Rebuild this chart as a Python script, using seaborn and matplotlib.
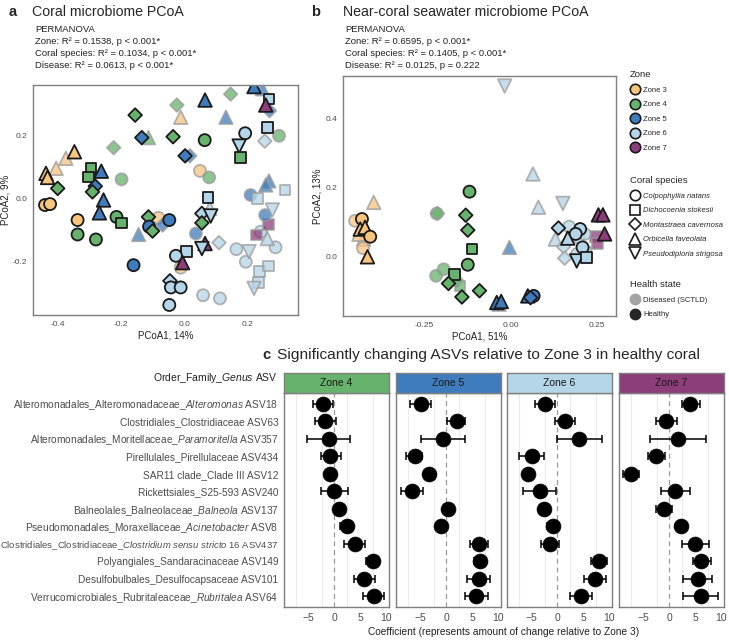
import pandas as pd
import seaborn as sns
import matplotlib.pyplot as plt
from matplotlib.lines import Line2D

# ---------------- data ----------------
# panel a: coral microbiome PCoA
a_x = [-0.438, -0.433, -0.406, -0.375, -0.348, -0.441, -0.425, -0.401, -0.224, -0.296,
       -0.303, -0.263, -0.282, -0.291, -0.256, -0.269, -0.199, -0.338, -0.338, -0.280,
       -0.215, -0.200, -0.156, -0.135, -0.114, -0.145, -0.161, -0.114, -0.112, -0.101,
       -0.082, -0.069, -0.048, -0.036, 0.002, 0.017, -0.024, -0.012, 0.064, 0.049,
       0.078, 0.065, 0.146, 0.131, 0.192, 0.173, 0.178, 0.254, 0.299, 0.263,
       0.267, 0.257, 0.269, 0.220, 0.246, 0.074, 0.055, 0.080, 0.083, 0.055,
       0.036, 0.065, 0.055, 0.109, 0.006, -0.027, -0.006, -0.012, -0.046, -0.043,
       -0.012, -0.048, 0.059, 0.112, 0.164, 0.194, 0.204, 0.238, 0.265, 0.234,
       0.220, 0.288, 0.262, 0.241, 0.265, 0.227, 0.255, 0.278, 0.209, 0.231,
       0.318, 0.267, 0.257]
a_y = [0.080, 0.067, 0.096, 0.128, 0.149, -0.021, -0.018, 0.032, 0.162, 0.096,
       0.069, 0.087, 0.039, 0.021, -0.005, -0.046, 0.061, -0.069, -0.115, -0.131,
       -0.059, -0.078, 0.266, 0.194, 0.194, -0.115, -0.213, -0.059, -0.090, -0.104,
       -0.062, -0.085, -0.069, 0.197, 0.136, 0.136, 0.298, 0.259, 0.186, 0.088,
       0.067, 0.314, 0.333, 0.259, 0.208, 0.167, 0.130, 0.183, 0.200, 0.227,
       0.317, 0.298, 0.280, 0.357, 0.350, 0.003, -0.048, -0.032, -0.056, -0.078,
       -0.112, -0.144, -0.160, -0.141, -0.170, -0.183, -0.205, -0.221, -0.263, -0.284,
       -0.284, -0.340, -0.309, -0.319, -0.162, -0.202, -0.170, -0.234, -0.215, -0.269,
       -0.287, -0.156, -0.128, -0.106, -0.083, -0.117, -0.053, -0.037, 0.011, 0.000,
       0.027, 0.056, 0.043]
a_zone = [3, 3, 3, 3, 3, 3, 3, 4, 4, 4,
          4, 5, 5, 4, 5, 5, 4, 3, 4, 4,
          4, 4, 4, 5, 4, 5, 5, 4, 5, 4,
          3, 5, 5, 4, 5, 5, 4, 3, 4, 3,
          4, 5, 4, 5, 6, 6, 4, 6, 4, 6,
          6, 7, 5, 5, 5, 6, 6, 6, 6, 4,
          5, 7, 6, 6, 6, 6, 7, 3, 6, 6,
          6, 6, 6, 6, 6, 6, 6, 6, 6, 6,
          6, 6, 6, 6, 7, 7, 5, 6, 5, 6,
          6, 5, 5]
a_species = ['O', 'O', 'O', 'O', 'O', 'C', 'C', 'M', 'M', 'D',
             'D', 'O', 'M', 'M', 'O', 'O', 'C', 'C', 'C', 'C',
             'C', 'D', 'M', 'M', 'O', 'O', 'C', 'M', 'C', 'M',
             'C', 'M', 'C', 'M', 'M', 'M', 'M', 'O', 'C', 'C',
             'C', 'O', 'M', 'O', 'C', 'P', 'D', 'M', 'C', 'D',
             'D', 'O', 'M', 'O', 'O', 'D', 'M', 'O', 'P', 'M',
             'C', 'O', 'P', 'M', 'D', 'C', 'O', 'C', 'M', 'C',
             'C', 'C', 'C', 'C', 'C', 'C', 'P', 'D', 'D', 'D',
             'P', 'C', 'O', 'C', 'D', 'D', 'C', 'P', 'C', 'D',
             'D', 'O', 'O']
a_health = ['H', 'H', 'D', 'D', 'H', 'H', 'H', 'H', 'D', 'H',
            'H', 'H', 'H', 'H', 'H', 'H', 'D', 'H', 'H', 'H',
            'H', 'H', 'H', 'H', 'D', 'D', 'H', 'H', 'H', 'H',
            'D', 'D', 'H', 'H', 'H', 'D', 'D', 'D', 'H', 'D',
            'D', 'H', 'D', 'D', 'H', 'H', 'H', 'D', 'D', 'H',
            'H', 'H', 'D', 'H', 'D', 'H', 'H', 'D', 'H', 'H',
            'D', 'H', 'H', 'D', 'H', 'H', 'H', 'D', 'H', 'H',
            'H', 'H', 'D', 'D', 'D', 'D', 'D', 'D', 'D', 'D',
            'D', 'D', 'D', 'D', 'D', 'D', 'D', 'D', 'D', 'D',
            'D', 'D', 'D']

# panel b: near-coral seawater PCoA
b_x = [-0.397, -0.451, -0.431, -0.436, -0.422, -0.407, -0.426, -0.428, -0.415, -0.440,
       -0.119, -0.214, -0.212, -0.130, -0.124, -0.112, -0.124, -0.194, -0.216, -0.163,
       -0.180, -0.146, -0.156, -0.141, -0.090, -0.017, 0.065, 0.081, 0.152, -0.003,
       -0.040, -0.027, -0.033, 0.067, 0.050, 0.058, 0.255, 0.268, 0.273, 0.246,
       0.253, 0.139, 0.170, 0.202, 0.189, 0.130, 0.154, 0.166, 0.197, 0.209,
       0.217, 0.157, 0.192, 0.221, 0.215, 0.193]
b_y = [0.157, 0.104, 0.109, 0.080, 0.085, 0.058, 0.051, 0.025, 0.000, 0.065,
       0.188, 0.125, 0.125, 0.120, 0.077, 0.022, -0.023, -0.036, -0.055, -0.052,
       -0.077, -0.084, -0.069, -0.116, -0.098, 0.493, 0.239, 0.143, 0.154, 0.027,
       -0.132, -0.129, -0.137, -0.113, -0.113, -0.118, 0.121, 0.121, 0.066, 0.058,
       0.039, 0.083, 0.087, 0.080, 0.066, 0.051, 0.029, 0.054, 0.056, 0.027,
       0.013, -0.004, -0.012, -0.002, 0.066, 0.008]
b_zone = [3, 3, 3, 3, 3, 3, 3, 3, 3, 3,
          4, 4, 4, 4, 4, 4, 4, 4, 4, 4,
          4, 4, 4, 4, 4, 6, 6, 6, 6, 5,
          5, 5, 5, 5, 5, 5, 7, 7, 7, 7,
          7, 6, 6, 6, 6, 6, 6, 6, 6, 6,
          6, 6, 6, 6, 6, 6]
b_species = ['O', 'C', 'C', 'O', 'O', 'C', 'O', 'C', 'O', 'O',
             'C', 'C', 'M', 'M', 'M', 'D', 'C', 'C', 'C', 'D',
             'M', 'D', 'M', 'M', 'M', 'P', 'O', 'O', 'P', 'O',
             'O', 'O', 'O', 'C', 'O', 'M', 'O', 'O', 'O', 'D',
             'D', 'M', 'C', 'C', 'C', 'O', 'M', 'O', 'C', 'C',
             'D', 'M', 'P', 'D', 'C', 'C']
b_health = ['D', 'D', 'H', 'H', 'H', 'H', 'D', 'D', 'H', 'D',
            'H', 'D', 'D', 'H', 'H', 'H', 'H', 'D', 'D', 'H',
            'H', 'D', 'D', 'H', 'H', 'D', 'D', 'D', 'D', 'D',
            'H', 'H', 'D', 'H', 'H', 'H', 'H', 'H', 'H', 'D',
            'D', 'H', 'D', 'H', 'H', 'D', 'D', 'H', 'D', 'H',
            'D', 'D', 'H', 'H', 'D', 'D']

# panel c: coefficients (estimate, lower, upper) per zone
asv_labels = [
    'Alteromonadales_Alteromonadaceae_$\\mathit{Alteromonas}$ ASV18',
    'Clostridiales_Clostridiaceae ASV63',
    'Alteromonadales_Moritellaceae_$\\mathit{Paramoritella}$ ASV357',
    'Pirellulales_Pirellulaceae ASV434',
    'SAR11 clade_Clade III ASV12',
    'Rickettsiales_S25-593 ASV240',
    'Balneolales_Balneolaceae_$\\mathit{Balneola}$ ASV137',
    'Pseudomonadales_Moraxellaceae_$\\mathit{Acinetobacter}$ ASV8',
    'Clostridiales_Clostridiaceae_$\\mathit{Clostridium}$ $\\mathit{sensu}$ '
    '$\\mathit{stricto}$ $\\mathit{16}$ ASV437',
    'Polyangiales_Sandaracinaceae ASV149',
    'Desulfobulbales_Desulfocapsaceae ASV101',
    'Verrucomicrobiales_Rubritaleaceae_$\\mathit{Rubritalea}$ ASV64',
]
z4_est = [-2.2, -1.8, -1.1, -0.8, -0.8, 0.0, 0.9, 2.4, 3.9, 7.4, 5.8, 7.6]
z4_lo = [-4.1, -3.8, -5.3, -2.7, -1.2, -2.7, 0.5, 1.1, 1.9, 6.1, 3.8, 5.6]
z4_hi = [-0.3, 0.3, 3.1, 1.2, -0.4, 2.6, 1.3, 3.7, 5.9, 8.7, 7.9, 9.6]
z5_est = [-5.0, 2.0, -0.7, -6.1, -3.3, -6.6, 0.3, -1.0, 6.4, 6.6, 6.3, 5.8]
z5_lo = [-7.0, 0.1, -5.0, -7.8, -3.7, -8.9, -0.1, -1.4, 4.6, 5.4, 3.9, 3.6]
z5_hi = [-3.0, 3.7, 3.7, -4.7, -2.9, -4.5, 0.7, -0.6, 8.0, 7.7, 8.5, 8.0]
z6_est = [-2.4, 1.5, 4.2, -5.0, -5.7, -3.4, -2.6, -0.9, -1.5, 8.1, 7.2, 4.6]
z6_lo = [-4.4, -0.5, 0.0, -7.4, -6.1, -6.6, -3.0, -2.1, -3.2, 6.6, 5.1, 2.5]
z6_hi = [-0.4, 3.4, 8.7, -2.6, -5.3, -0.2, -2.2, 0.3, 0.3, 9.7, 9.4, 6.8]
z7_est = [4.0, -0.6, 1.7, -2.6, -7.4, 1.1, -1.05, 2.3, 5.0, 6.2, 5.5, 6.1]
z7_lo = [2.4, -2.6, -3.7, -4.2, -9.0, -1.7, -2.6, 1.9, 2.5, 4.5, 2.7, 2.7]
z7_hi = [5.9, 1.4, 7.1, -0.9, -5.9, 3.9, 0.4, 2.7, 7.6, 8.0, 8.3, 9.4]

# ---------------- styling ----------------
sns.set_style('white')
plt.rcParams['font.family'] = ['Liberation Sans', 'DejaVu Sans']
plt.rcParams['mathtext.fontset'] = 'custom'
plt.rcParams['mathtext.rm'] = 'Liberation Sans'
plt.rcParams['mathtext.it'] = 'Liberation Sans:italic'

zone_pal = {'Zone 3': '#F8C57F', 'Zone 4': '#67B26C', 'Zone 5': '#3F7CBE',
            'Zone 6': '#B5D5E8', 'Zone 7': '#8C3D7A'}
species_names = {'C': 'Colpophyllia natans', 'D': 'Dichocoenia stokesii',
                 'M': 'Montastraea cavernosa', 'O': 'Orbicella faveolata',
                 'P': 'Pseudodiploria strigosa'}
species_markers = {'Colpophyllia natans': 'o', 'Dichocoenia stokesii': 's',
                   'Montastraea cavernosa': 'D', 'Orbicella faveolata': '^',
                   'Pseudodiploria strigosa': 'v'}
# marker areas so the shapes come out about as big as ggplot's
species_sizes = {'Colpophyllia natans': 75, 'Dichocoenia stokesii': 58,
                 'Montastraea cavernosa': 48, 'Orbicella faveolata': 95,
                 'Pseudodiploria strigosa': 95}
legend_msize = {'Colpophyllia natans': 7.5, 'Dichocoenia stokesii': 6.6,
                'Montastraea cavernosa': 6.0, 'Orbicella faveolata': 8.5,
                'Pseudodiploria strigosa': 8.5}
FRAME = '#7f7f7f'
TXT = '#4d4d4d'

W, H = 729, 640
fig = plt.figure(figsize=(W / 100, H / 100), dpi=100)


def box(l, t, r, b):
    # pixel box -> figure fraction rect
    return [l / W, 1 - b / H, (r - l) / W, (b - t) / H]


def fx(x):
    return x / W


def fy(y):
    return 1 - y / H


def frame(ax, labelsize=6):
    for sp in ax.spines.values():
        sp.set_color(FRAME)
        sp.set_linewidth(1.0)
    ax.tick_params(length=2.5, width=0.6, color=FRAME, labelsize=labelsize,
                   labelcolor=TXT, pad=1.5)


def pcoa_frame(x, y, zone, species, health):
    return pd.DataFrame({'PCoA1': x, 'PCoA2': y,
                         'Zone': ['Zone %d' % z for z in zone],
                         'Species': [species_names[s] for s in species],
                         'Health': ['Healthy' if h == 'H' else 'Diseased' for h in health]})


def draw_pcoa(ax, df):
    for state, edge, alpha in [('Diseased', '#9a9a9a', 0.75), ('Healthy', '#1a1a1a', 1.0)]:
        sub = df[df['Health'] == state]
        sns.scatterplot(data=sub, x='PCoA1', y='PCoA2', hue='Zone', style='Species',
                        size='Species', palette=zone_pal, markers=species_markers,
                        sizes=species_sizes, edgecolor=edge, linewidth=1.3, alpha=alpha,
                        legend=False, ax=ax)


# ---------------- panel a ----------------
ax_a = fig.add_axes(box(33, 85, 298, 315))
draw_pcoa(ax_a, pcoa_frame(a_x, a_y, a_zone, a_species, a_health))
ax_a.set_xlim(-0.479, 0.359)
ax_a.set_ylim(-0.372, 0.362)
ax_a.set_xticks([-0.4, -0.2, 0.0, 0.2], ['-0.4', '-0.2', '0.0', '0.2'])
ax_a.set_yticks([-0.2, 0.0, 0.2], ['-0.2', '0.0', '0.2'])
ax_a.set_xlabel('PCoA1, 14%', fontsize=7, color='#222222', labelpad=2)
ax_a.set_ylabel('PCoA2, 9%', fontsize=7, color='#222222', labelpad=2)
frame(ax_a)

fig.text(fx(9), fy(12), 'a', fontsize=10.5, fontweight='bold', va='center')
fig.text(fx(32), fy(12), 'Coral microbiome PCoA', fontsize=10.2, va='center')
for i, line in enumerate(['PERMANOVA', 'Zone: R² = 0.1538, p < 0.001*',
                          'Coral species: R² = 0.1034, p < 0.001*',
                          'Disease: R² = 0.0613, p < 0.001*']):
    fig.text(fx(35), fy(30 + 12 * i), line, fontsize=6.8, va='center', color='#222222')

# ---------------- panel b ----------------
ax_b = fig.add_axes(box(343, 76, 616, 316))
draw_pcoa(ax_b, pcoa_frame(b_x, b_y, b_zone, b_species, b_health))
ax_b.set_xlim(-0.486, 0.306)
ax_b.set_ylim(-0.171, 0.522)
ax_b.set_xticks([-0.25, 0.0, 0.25], ['-0.25', '0.00', '0.25'])
ax_b.set_yticks([0.0, 0.2, 0.4], ['0.0', '0.2', '0.4'])
ax_b.set_xlabel('PCoA1, 51%', fontsize=7, color='#222222', labelpad=2)
ax_b.set_ylabel('PCoA2, 13%', fontsize=7, color='#222222', labelpad=2)
frame(ax_b)

fig.text(fx(311), fy(12), 'b', fontsize=10.5, fontweight='bold', va='center')
fig.text(fx(343), fy(12), 'Near-coral seawater microbiome PCoA', fontsize=10.2, va='center')
for i, line in enumerate(['PERMANOVA', 'Zone: R² = 0.6595, p < 0.001*',
                          'Coral species: R² = 0.1405, p < 0.001*',
                          'Disease: R² = 0.0125, p = 0.222']):
    fig.text(fx(345), fy(30 + 12 * i), line, fontsize=6.8, va='center', color='#222222')

# ---------------- legends ----------------
zone_handles = [Line2D([], [], marker='o', ls='', markerfacecolor=c, markeredgecolor='#1a1a1a',
                       markeredgewidth=1.2, markersize=7.5, label=z) for z, c in zone_pal.items()]
sp_handles = [Line2D([], [], marker=m, ls='', markerfacecolor='white', markeredgecolor='#1a1a1a',
                     markeredgewidth=1.2, markersize=legend_msize[n], label=n)
              for n, m in species_markers.items()]
hs_handles = [Line2D([], [], marker='o', ls='', markerfacecolor=c, markeredgecolor=c,
                     markersize=7.5, label=n)
              for n, c in [('Diseased (SCTLD)', '#a3a3a3'), ('Healthy', '#262626')]]

for handles, title, top, italic in [(zone_handles, 'Zone', 70, False),
                                    (sp_handles, 'Coral species', 176, True),
                                    (hs_handles, 'Health state', 280, False)]:
    leg = fig.legend(handles=handles, title=title, loc='upper left',
                     bbox_to_anchor=(fx(630), fy(top)), frameon=False, fontsize=5.5,
                     title_fontsize=6.8, labelspacing=0.95, handletextpad=0.5,
                     handlelength=1.2, borderpad=0, borderaxespad=0)
    leg._legend_box.align = 'left'
    if italic:
        for t in leg.get_texts():
            t.set_fontstyle('italic')

# ---------------- panel c ----------------
fig.text(fx(262), fy(355), 'c', fontsize=10.5, fontweight='bold', va='center')
fig.text(fx(277), fy(355), 'Significantly changing ASVs relative to Zone 3 in healthy coral',
         fontsize=11.1, va='center')

facets = [('Zone 4', z4_est, z4_lo, z4_hi, 284), ('Zone 5', z5_est, z5_lo, z5_hi, 396),
          ('Zone 6', z6_est, z6_lo, z6_hi, 507), ('Zone 7', z7_est, z7_lo, z7_hi, 619)]
pos = {lab: i for i, lab in enumerate(asv_labels)}

for k, (zone, est, lo, hi, left) in enumerate(facets):
    ax = fig.add_axes(box(left, 393, left + 105, 607))
    df = pd.DataFrame({'ASV': asv_labels, 'coef': est, 'lo': lo, 'hi': hi})
    df['row'] = df['ASV'].map(pos)
    for g in [-7.5, -2.5, 2.5, 7.5]:
        ax.axvline(g, color='#ebebeb', lw=0.8, zorder=0)
    ax.axvline(0, color='#9a9a9a', lw=0.9, ls=(0, (4, 3)), zorder=1)
    ax.errorbar(df['coef'], df['row'], xerr=[df['coef'] - df['lo'], df['hi'] - df['coef']],
                fmt='none', ecolor='black', elinewidth=1.1, capsize=3, capthick=1.1, zorder=2)
    sns.scatterplot(data=df, x='coef', y='row', color='black', s=115, edgecolor='black',
                    linewidth=0.5, legend=False, ax=ax, zorder=3)
    ax.set_xlim(-9.8, 10.6)
    ax.set_ylim(11.6, -0.6)
    ax.set_xticks([-5, 0, 5, 10], ['\u22125', '0', '5', '10'])
    ax.set_yticks(range(len(asv_labels)))
    ax.set_xlabel('')
    ax.set_ylabel('')
    frame(ax, labelsize=7.5)
    ax.tick_params(axis='x', pad=2)
    if k == 0:
        ax.set_yticklabels(asv_labels, fontsize=7.3)
        # the long Clostridium label has to fit the left edge
        ax.get_yticklabels()[8].set_fontsize(6.8)
    else:
        ax.tick_params(axis='y', left=False, labelleft=False)

    strip = fig.add_axes(box(left, 373, left + 105, 393))
    strip.set_facecolor(zone_pal[zone])
    strip.set_xticks([])
    strip.set_yticks([])
    for sp in strip.spines.values():
        sp.set_color(FRAME)
        sp.set_linewidth(1.0)
    strip.text(0.5, 0.5, zone, fontsize=7.5, ha='center', va='center',
               color='#1a1a1a', transform=strip.transAxes)

fig.text(fx(278), fy(378), 'Order_Family_$\\mathit{Genus}$ ASV', fontsize=7.5,
         ha='right', va='center', color='#222222')
fig.text(fx(504), fy(632), 'Coefficient (represents amount of change relative to Zone 3)',
         fontsize=7.3, ha='center', va='center', color='#222222')

fig.savefig('out.png', dpi=100)
